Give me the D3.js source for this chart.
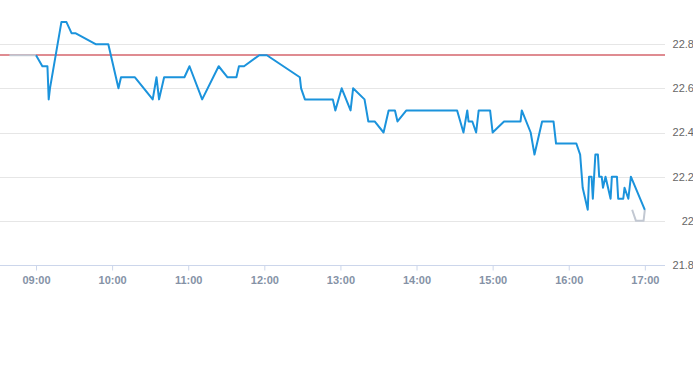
<!DOCTYPE html>
<html>
<head>
<meta charset="utf-8">
<script src="https://cdn.jsdelivr.net/npm/d3@7"></script>
<style>
  html, body { margin: 0; padding: 0; background: #ffffff; }
  svg { display: block; font-family: "Liberation Sans", Arial, sans-serif; }
</style>
</head>
<body>
<div id="chart"></div>
<script>
// 成交价（盘中）
const tradeTimes = [
  "09:00", "09:05", "09:09", "09:10", "09:11", "09:20", "09:24", "09:28", "09:31", "09:47",
  "09:57", "10:05", "10:07", "10:18", "10:32", "10:35", "10:37", "10:41", "10:57", "11:01",
  "11:11", "11:24", "11:31", "11:38", "11:40", "11:44", "11:56", "12:02", "12:28", "12:29",
  "12:32", "12:54", "12:56", "13:01", "13:08", "13:10", "13:19", "13:22", "13:27", "13:34",
  "13:38", "13:43", "13:45", "13:52", "14:32", "14:37", "14:40", "14:41", "14:44", "14:47",
  "14:49", "14:58", "15:00", "15:09", "15:22", "15:23", "15:30", "15:33", "15:39", "15:48",
  "15:50", "16:06", "16:09", "16:11", "16:15", "16:16", "16:18", "16:19", "16:21", "16:23",
  "16:24", "16:26", "16:27", "16:29", "16:33", "16:34", "16:38", "16:39", "16:43", "16:44",
  "16:47", "16:49", "17:00"
]
const tradePrices = [
  22.75, 22.70, 22.70, 22.55, 22.60, 22.90, 22.90, 22.85, 22.85, 22.80,
  22.80, 22.60, 22.65, 22.65, 22.55, 22.65, 22.55, 22.65, 22.65, 22.70,
  22.55, 22.70, 22.65, 22.65, 22.70, 22.70, 22.75, 22.75, 22.65, 22.60,
  22.55, 22.55, 22.50, 22.60, 22.50, 22.60, 22.55, 22.45, 22.45, 22.40,
  22.50, 22.50, 22.45, 22.50, 22.50, 22.40, 22.50, 22.45, 22.45, 22.40,
  22.50, 22.50, 22.40, 22.45, 22.45, 22.50, 22.40, 22.30, 22.45, 22.45,
  22.35, 22.35, 22.30, 22.15, 22.05, 22.20, 22.20, 22.10, 22.30, 22.30,
  22.20, 22.20, 22.15, 22.20, 22.10, 22.20, 22.20, 22.10, 22.10, 22.15,
  22.10, 22.20, 22.05
]

// 盘前 / 盘后（灰线）
const preTimes = ["08:39", "09:00"]
const prePrices = [22.75, 22.75]
const postTimes = ["16:50", "16:53", "16:59", "17:00"]
const postPrices = [22.05, 22.00, 22.00, 22.05]

// 昨收
const prevClose = 22.75

// 刻度
const yTicks = [21.8, 22.0, 22.2, 22.4, 22.6, 22.8]
const xTicks = ["09:00", "10:00", "11:00", "12:00", "13:00", "14:00", "15:00", "16:00", "17:00"]

const width = 693
const height = 365
const plotRight = 665
const plotBottom = 265

const parseTime = (s) => {
  const [h, m] = s.split(":").map(Number)
  return new Date(2020, 0, 1, h, m)
}
const toSeries = (times, prices) =>
  times.map((t, i) => ({ date: parseTime(t), price: prices[i] }))

const trade = toSeries(tradeTimes, tradePrices)
const pre = toSeries(preTimes, prePrices)
const post = toSeries(postTimes, postPrices)

// 时间比例尺
const x = d3
  .scaleTime()
  .domain([new Date(2020, 0, 1, 8, 31, 36), new Date(2020, 0, 1, 17, 15, 54)])
  .range([0, plotRight])

// 价格比例尺
const y = d3.scaleLinear().domain([21.8, 23.0]).range([plotBottom, 0])

const svg = d3
  .select("#chart")
  .append("svg")
  .attr("width", width)
  .attr("height", height)

// 网格线
svg
  .append("g")
  .selectAll("line")
  .data(yTicks.slice(1))
  .enter()
  .append("line")
  .attr("x1", 0)
  .attr("x2", plotRight)
  .attr("y1", (d) => Math.round(y(d)) + 0.5)
  .attr("y2", (d) => Math.round(y(d)) + 0.5)
  .attr("stroke", "#e6e6e6")
  .attr("stroke-width", 1)

// y 轴标签
svg
  .append("g")
  .selectAll("text")
  .data(yTicks)
  .enter()
  .append("text")
  .text((d) => String(+d.toFixed(1)))
  .attr("x", 694)
  .attr("y", (d) => y(d))
  .attr("dy", "0.35em")
  .attr("text-anchor", "end")
  .attr("font-size", "11px")
  .attr("fill", "#666666")

// x 轴
const xAxis = d3
  .axisBottom(x)
  .tickValues(xTicks.map(parseTime))
  .tickFormat(d3.timeFormat("%H:%M"))
  .tickSize(5)
  .tickSizeOuter(0)

const axisG = svg
  .append("g")
  .attr("transform", `translate(0,${plotBottom + 0.5})`)
  .call(xAxis)
axisG.select(".domain").attr("stroke", "#ccd6eb").attr("d", `M0,0H${plotRight}`)
axisG.selectAll(".tick line").attr("stroke", "#ccd6eb")
axisG
  .selectAll(".tick text")
  .attr("y", 11)
  .attr("dy", "0.71em")
  .attr("font-size", "11px")
  .attr("font-weight", "bold")
  .attr("font-family", "\"Liberation Sans\", Arial, sans-serif")
  .attr("fill", "#8592a6")

// 昨收线
svg
  .append("line")
  .attr("x1", 0)
  .attr("x2", plotRight)
  .attr("y1", Math.round(y(prevClose)))
  .attr("y2", Math.round(y(prevClose)))
  .attr("stroke", "#c01824")
  .attr("stroke-width", 1.1)

const line = d3
  .line()
  .x((d) => x(d.date))
  .y((d) => y(d.price))

// 盘前盘后
svg
  .selectAll(".ext-line")
  .data([pre, post])
  .enter()
  .append("path")
  .attr("class", "ext-line")
  .attr("d", line)
  .attr("fill", "none")
  .attr("stroke", "#c2c8d2")
  .attr("stroke-width", 2)
  .attr("stroke-linejoin", "round")

// 成交价
svg
  .append("path")
  .datum(trade)
  .attr("d", line)
  .attr("fill", "none")
  .attr("stroke", "#1b93dc")
  .attr("stroke-width", 2)
  .attr("stroke-linejoin", "round")
</script>
</body>
</html>
